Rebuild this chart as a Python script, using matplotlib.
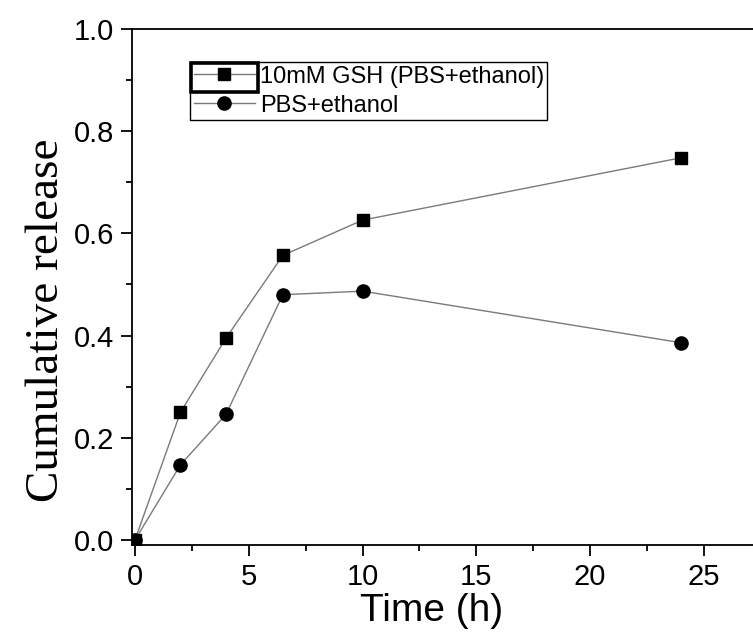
"""Cumulative release over time: 10 mM GSH vs plain PBS+ethanol."""
import matplotlib

matplotlib.use("Agg")
import matplotlib.pyplot as plt
from matplotlib.patches import Rectangle
from matplotlib.ticker import MultipleLocator

time_h = [0, 2, 4, 6.5, 10, 24]
gsh_release = [0.0, 0.25, 0.395, 0.557, 0.626, 0.748]
pbs_release = [0.0, 0.147, 0.246, 0.480, 0.487, 0.386]

labels = ["10mM GSH (PBS+ethanol)", "PBS+ethanol"]

W, H = 753, 641
fig = plt.figure(figsize=(W / 100, H / 100), dpi=100)
fig.patch.set_facecolor("white")

# axes box in pixels: left 132, top 29, bottom 545, runs off the right edge
ax = fig.add_axes([132 / W, 1 - 545 / H, 1 - 132 / W, (545 - 29) / H])

ax.plot(time_h, gsh_release, color="#7a7a7a", lw=1.0, marker="s", ms=8.5,
        mfc="black", mec="black", label=labels[0], zorder=3)
ax.plot(time_h, pbs_release, color="#7a7a7a", lw=1.0, marker="o", ms=9.5,
        mfc="black", mec="black", label=labels[1], zorder=3)

ax.set_xlim(-0.13, -0.13 + (W - 132) / 22.76)
ax.set_ylim(-0.0098, 1.0)
ax.xaxis.set_major_locator(MultipleLocator(5))
ax.xaxis.set_minor_locator(MultipleLocator(2.5))
ax.yaxis.set_major_locator(MultipleLocator(0.2))
ax.yaxis.set_minor_locator(MultipleLocator(0.1))
ax.yaxis.set_major_formatter(plt.FuncFormatter(lambda v, _: f"{v:.1f}"))

ax.spines["right"].set_visible(False)
for s in ("top", "left", "bottom"):
    ax.spines[s].set_linewidth(1.3)
ax.tick_params(which="both", direction="out", top=False, right=False, width=1.3)
ax.tick_params(which="major", length=8, labelsize=21, pad=5)
ax.tick_params(which="minor", length=4.5)
for t in ax.get_xticklabels() + ax.get_yticklabels():
    t.set_fontfamily("Liberation Sans")

ax.set_xlabel("Time (h)", fontsize=28, family="Liberation Sans")
ax.xaxis.set_label_coords((432 - 132) / (W - 132), (545 - 593) / (545 - 29))
ax.set_ylabel("Cumulative release", fontsize=34, family="Liberation Serif")
ax.yaxis.set_label_coords((68 - 132) / (W - 132), (545 - 320) / (545 - 29))

leg = ax.legend(loc="upper left", bbox_to_anchor=(190 / W, 1 - 62 / H),
                bbox_transform=fig.transFigure, borderaxespad=0,
                prop={"family": "Liberation Sans", "size": 17},
                frameon=True, fancybox=False, handlelength=2.6, handletextpad=0.2,
                borderpad=0.15, labelspacing=0.3)
leg.get_frame().set_edgecolor("black")
leg.get_frame().set_linewidth(1.0)
leg.get_frame().set_facecolor("white")
leg.get_frame().set_alpha(1)

# Origin-style selection box round the first legend handle
fig.add_artist(Rectangle((191 / W, 1 - 92 / H), 67 / W, 29 / H, transform=fig.transFigure,
                         fill=False, edgecolor="black", lw=2.6, zorder=10))

fig.savefig("out.png", dpi=100)
